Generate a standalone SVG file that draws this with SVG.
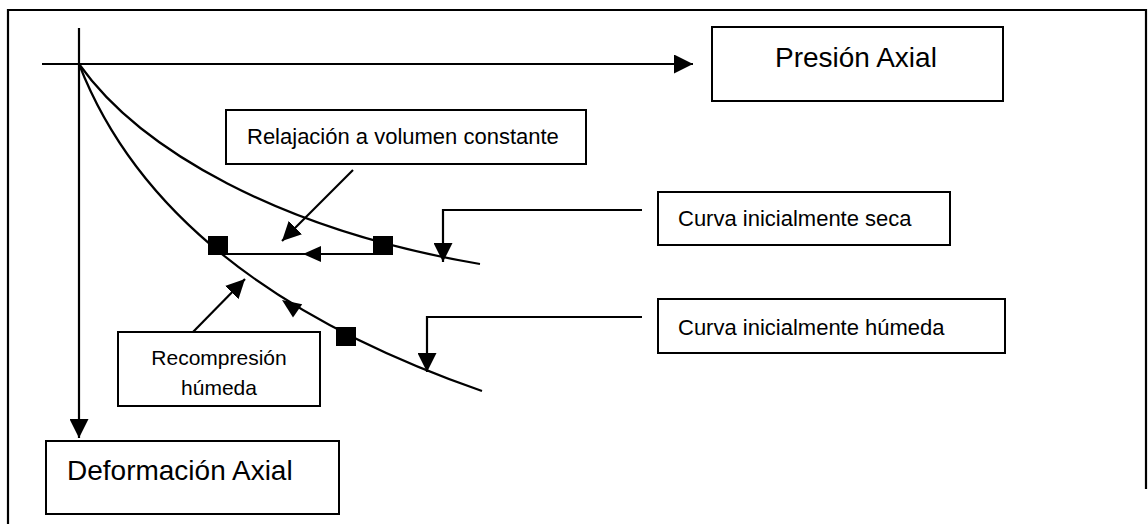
<svg xmlns="http://www.w3.org/2000/svg" width="1148" height="524" viewBox="0 0 1148 524">
<defs>
<style>
.ln{fill:none;stroke:#000;stroke-width:2.2}
.bx{fill:#fff;stroke:#000;stroke-width:2}
.t{font-family:"Liberation Sans",Arial,sans-serif;fill:#000}
.s{font-size:22px}
.b{font-size:28px}
.sq{fill:#000}
</style>
<marker id="ah" viewBox="0 0 20 20" refX="20" refY="10" markerWidth="19" markerHeight="19" markerUnits="userSpaceOnUse" orient="auto">
<path d="M0,0 L20,10 L0,20 z" fill="#000"/>
</marker>
</defs>
<rect width="1148" height="524" fill="#fff"/>
<path class="ln" d="M8,524 V10 H1146 V489"/>
<g id="connectors">
<line class="ln" x1="79" y1="28" x2="79" y2="438" marker-end="url(#ah)"/>
<line class="ln" x1="42" y1="64" x2="693" y2="64" marker-end="url(#ah)"/>
<path class="ln" d="M79,64 C140,150 280,230 480,264"/>
<path class="ln" d="M79,64 C120,170 220,300 482,391"/>
<line class="ln" x1="228" y1="254" x2="373" y2="254"/>
<polygon points="303,254 321,246 321,262" fill="#000"/>
<polygon points="282,300 302.2,304.3 293,317.5" fill="#000"/>
<line class="ln" x1="353" y1="170" x2="282" y2="241" marker-end="url(#ah)"/>
<line class="ln" x1="193" y1="332" x2="245" y2="279" marker-end="url(#ah)"/>
<path class="ln" d="M642,210 H443 V262" marker-end="url(#ah)"/>
<path class="ln" d="M642,317 H427 V372" marker-end="url(#ah)"/>
<rect class="sq" x="208" y="236" width="20" height="19"/>
<rect class="sq" x="373" y="236" width="20" height="19"/>
<rect class="sq" x="336" y="327" width="20" height="19"/>
</g>
<g id="presion">
<rect class="bx" x="712" y="27" width="291" height="74"/>
<text class="t b" x="775" y="67">Presión Axial</text>
</g>
<g id="relajacion">
<rect class="bx" x="226" y="110" width="360" height="54"/>
<text class="t s" x="247" y="144">Relajación a volumen constante</text>
</g>
<g id="seca">
<rect class="bx" x="658" y="192" width="292" height="53"/>
<text class="t s" x="678" y="226">Curva inicialmente seca</text>
</g>
<g id="humeda">
<rect class="bx" x="658" y="299" width="347" height="54"/>
<text class="t s" x="678" y="335">Curva inicialmente húmeda</text>
</g>
<g id="recompresion">
<rect class="bx" x="118" y="332" width="202" height="74"/>
<text class="t" font-size="21" x="219" y="365" text-anchor="middle">Recompresión</text>
<text class="t" font-size="21" x="219" y="395" text-anchor="middle">húmeda</text>
</g>
<g id="deformacion">
<rect class="bx" x="46" y="441" width="293" height="73"/>
<text class="t b" x="67" y="480">Deformación Axial</text>
</g>
</svg>
